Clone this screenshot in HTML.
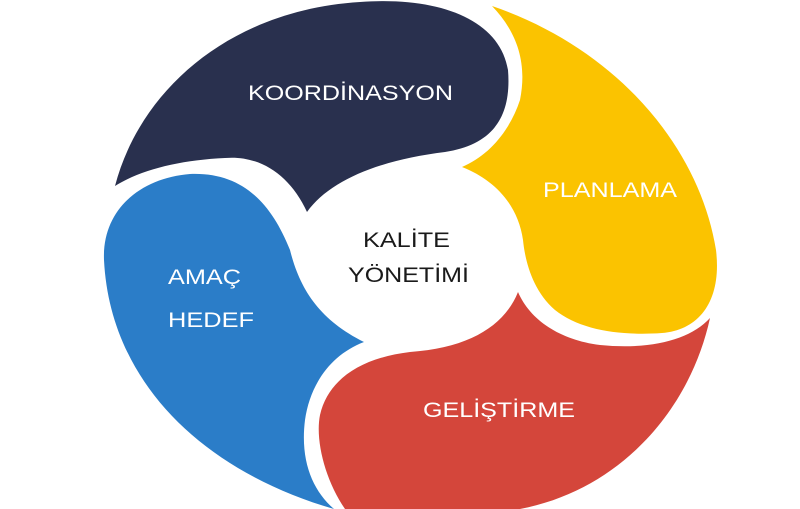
<!DOCTYPE html>
<html><head><style>
html,body{margin:0;padding:0;background:#fff;}
svg{display:block}
text{font-family:"Liberation Sans",sans-serif;font-size:21px;}
</style></head><body>
<svg width="800" height="509" viewBox="0 0 800 509">
<path fill="#29304e" d="M115,186 C140,90 230,10 360,2 C440,-4 500,20 508,70 C512,120 490,145 445,152 C380,160 330,180 307,212 C290,175 260,155 225,158 C180,160 140,170 115,186 Z"/>
<path fill="#fbc300" d="M492,6 C620,50 700,150 716,250 C722,300 700,330 662,333 C620,336 580,330 555,310 C532,290 525,260 523,240 C518,205 495,180 462,167 C490,155 510,130 520,100 C528,60 515,30 492,6 Z"/>
<path fill="#d4463b" d="M710,318 C690,410 620,490 520,509 L345,509 C325,480 315,440 320,415 C328,380 360,358 410,352 C470,348 505,325 518,292 C530,320 560,340 600,345 C650,350 690,340 710,318 Z"/>
<path fill="#2b7dc8" d="M334,509 C200,470 110,380 104,260 C102,210 140,178 190,174 C240,172 270,200 290,250 C300,290 320,320 364,342 C330,355 310,385 305,420 C300,460 312,490 334,509 Z"/>
<text x="248" y="100" fill="#fff" textLength="205" lengthAdjust="spacingAndGlyphs">KOORDİNASYON</text>
<text x="543" y="197" fill="#fff" textLength="134" lengthAdjust="spacingAndGlyphs">PLANLAMA</text>
<text x="363" y="247" fill="#1a1a1a" textLength="87" lengthAdjust="spacingAndGlyphs">KALİTE</text>
<text x="348" y="282" fill="#1a1a1a" textLength="121" lengthAdjust="spacingAndGlyphs">YÖNETİMİ</text>
<text x="168" y="284" fill="#fff" textLength="73" lengthAdjust="spacingAndGlyphs">AMAÇ</text>
<text x="168" y="327" fill="#fff" textLength="86" lengthAdjust="spacingAndGlyphs">HEDEF</text>
<text x="423" y="417" fill="#fff" textLength="152" lengthAdjust="spacingAndGlyphs">GELİŞTİRME</text>
</svg>
</body></html>
